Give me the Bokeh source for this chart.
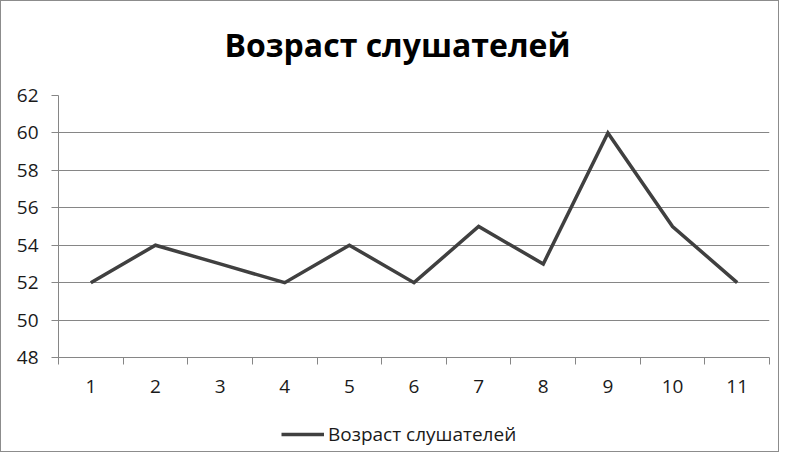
from bokeh.plotting import figure
from bokeh.layouts import column
from bokeh.models import FixedTicker, Legend, LegendItem, Range1d, Label
from bokeh.embed import file_html
from bokeh.resources import INLINE

title_text = "Возраст слушателей"
series_name = "Возраст слушателей"
categories = ["1", "2", "3", "4", "5", "6", "7", "8", "9", "10", "11"]
ages = [52, 54, 53, 52, 54, 52, 55, 53, 60, 55, 52]
y_ticks = [48, 50, 52, 54, 56, 58, 60, 62]

xs = list(range(1, len(categories) + 1))
LINE_COLOR = "#404040"
FONT = "Open Sans"
W = 777


def strip(h):
    s = figure(width=W, height=h, output_backend="svg", toolbar_location=None,
               x_range=Range1d(0, 1), y_range=Range1d(0, 1),
               x_axis_location=None, y_axis_location=None, min_border=0)
    s.min_border_left = s.min_border_right = s.min_border_top = s.min_border_bottom = 0
    s.grid.grid_line_color = None
    s.outline_line_color = None
    s.background_fill_color = "white"
    s.border_fill_color = "white"
    return s


# title strip (its frame is aligned with the chart's frame by the column layout)
ts = strip(80)
ts.add_layout(Label(x=339, y=37, x_units="screen", y_units="screen", text=title_text,
                    text_font=FONT, text_font_style="bold", text_font_size="32px",
                    text_color="black", text_align="center", text_baseline="alphabetic"))

# main chart
p = figure(width=W, height=320, output_backend="svg", toolbar_location=None,
           x_range=Range1d(0.5, len(categories) + 0.5),
           y_range=Range1d(y_ticks[0], y_ticks[-1]))
p.min_border_left = 57
p.min_border_right = 9
p.min_border_top = 14
p.min_border_bottom = 44
p.outline_line_color = None
p.background_fill_color = "white"
p.border_fill_color = "white"

r = p.line(xs, ages, line_color=LINE_COLOR, line_width=3.5, line_join="miter")

xt = FixedTicker(ticks=xs, minor_ticks=[x - 0.5 for x in xs] + [xs[-1] + 0.5])
p.xaxis.ticker = xt
p.xaxis.major_label_overrides = {x: c for x, c in zip(xs, categories)}
p.xaxis.major_tick_line_color = None
p.xaxis.minor_tick_line_color = "#868686"
p.xaxis.minor_tick_out = 7
p.xaxis.minor_tick_in = 0
p.xaxis.axis_line_color = "#868686"
p.xaxis.major_label_text_font = FONT
p.xaxis.major_label_text_font_size = "19px"
p.xaxis.major_label_text_color = "#1a1a1a"
p.xaxis.major_label_standoff = 15

p.yaxis.ticker = FixedTicker(ticks=y_ticks, minor_ticks=[])
p.yaxis.major_tick_line_color = "#868686"
p.yaxis.major_tick_out = 7
p.yaxis.major_tick_in = 0
p.yaxis.minor_tick_line_color = None
p.yaxis.axis_line_color = "#868686"
p.yaxis.major_label_text_font = FONT
p.yaxis.major_label_text_font_size = "19px"
p.yaxis.major_label_text_color = "#1a1a1a"
p.yaxis.major_label_standoff = 13

p.xgrid.grid_line_color = None
p.ygrid.grid_line_color = "#868686"
p.ygrid.grid_line_width = 1

# legend strip (its line lies outside the strip's visible range; only the swatch shows)
lg = strip(50)
lr = lg.line(xs, ages, line_color=LINE_COLOR, line_width=3.5)
legend = Legend(items=[LegendItem(label=series_name, renderers=[lr])],
                location=(223, 4), orientation="horizontal",
                border_line_color=None, background_fill_alpha=0,
                padding=0, margin=0, glyph_width=43, label_standoff=4,
                label_text_font=FONT, label_text_font_size="19px",
                label_text_color="#1a1a1a")
lg.add_layout(legend, "center")

layout = column(ts, p, lg, spacing=0)
layout.styles = {"border": "1px solid #8c8c8c", "background": "white"}

open("out.html", "w").write(file_html(layout, INLINE))
